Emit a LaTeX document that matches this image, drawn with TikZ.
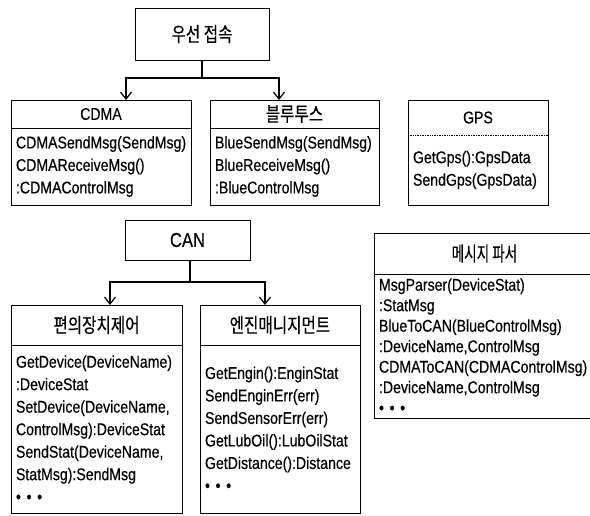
\documentclass[tikz,border=0pt]{standalone}
\usepackage{fontspec}
\setmainfont[FakeStretch=0.83,FakeBold=0.4]{Liberation Sans}
\newfontfamily\kr[FakeStretch=0.78,FakeBold=0.4]{Noto Sans CJK KR}
\newfontfamily\krnarrow[FakeStretch=0.68,FakeBold=0.4]{Noto Sans CJK KR}
\usetikzlibrary{positioning,arrows.meta}

\begin{document}
\begin{tikzpicture}[x=1pt,y=-1pt,
  every node/.style={inner sep=0pt, outer sep=0pt},
  rootbox/.style={draw, line width=1pt},
  classtitle/.style={draw, line width=0.7pt, font=\fontsize{17}{22}\selectfont},
  krtitle/.style={classtitle, font=\kr\fontsize{20}{24}\selectfont},
  classbody/.style={draw, line width=0.7pt, align=left, inner xsep=5pt,
    font=\fontsize{17}{22.5}\selectfont},
  link/.style={line width=1.2pt},
  inherit/.style={link, -{Straight Barb[length=7pt,width=11pt]}}]
  \clip (0,0) rectangle (590,515);

  % wireless side
  \node[rootbox, krtitle, minimum width=134, minimum height=52] (wireless) at (202,34) {우선 접속};
  \node[classtitle, minimum width=180, minimum height=28] (cdma) at (101,114) {CDMA};
  \node[classbody, below=0pt of cdma, text width=170, minimum height=77] (cdmaops)
    {CDMASendMsg(SendMsg)\\CDMAReceiveMsg()\\:CDMAControlMsg};
  \node[krtitle, minimum width=169, minimum height=28] (blue) at (294.5,114) {블루투스};
  \node[classbody, below=0pt of blue, text width=159, minimum height=77] (blueops)
    {BlueSendMsg(SendMsg)\\BlueReceiveMsg()\\:BlueControlMsg};
  \node[classtitle, draw=none, minimum width=140, minimum height=35] (gps) at (478,117.5) {GPS};
  \node[classbody, draw=none, below=0pt of gps, text width=130, minimum height=70] (gpsops)
    {GetGps():GpsData\\SendGps(GpsData)};
  \draw[line width=0.7pt] (gps.north west) rectangle (gpsops.south east);
  \draw[line width=0.7pt, densely dotted] (gps.south west) -- (gps.south east);

  \draw[link] (wireless.south) -- ++(0,18) coordinate (wirelessbar);
  \draw[inherit] (wirelessbar) -| ([xshift=25pt]cdma.north);
  \draw[inherit] (wirelessbar) -| ([xshift=-15.5pt]blue.north);

  % CAN side
  \node[classtitle, font=\fontsize{20}{24}\selectfont, minimum width=125, minimum height=40] (can) at (187.5,240) {CAN};
  \node[krtitle, minimum width=171, minimum height=40] (device) at (96.5,325) {편의장치제어};
  \node[classbody, below=0pt of device, text width=161, minimum height=168] (deviceops)
    {GetDevice(DeviceName)\\:DeviceStat\\SetDevice(DeviceName,\\ControlMsg):DeviceStat\\SendStat(DeviceName,\\StatMsg):SendMsg\\• • •};
  \node[krtitle, minimum width=160, minimum height=40] (engine) at (280,325) {엔진매니지먼트};
  \node[classbody, below=0pt of engine, text width=150, minimum height=168] (engineops)
    {GetEngin():EnginStat\\SendEnginErr(err)\\SendSensorErr(err)\\GetLubOil():LubOilStat\\GetDistance():Distance\\• • •};

  \draw[link] ([xshift=2.5pt]can.south) -- ++(0,22) coordinate (canbar);
  \draw[inherit] (canbar) -| ([xshift=13.5pt]device.north);
  \draw[inherit] (canbar) -| ([xshift=-15pt]engine.north);

  % parser
  \node[krtitle, font=\krnarrow\fontsize{20}{24}\selectfont, minimum width=221, minimum height=41] (parser) at (484.5,253.5) {메시지 파서};
  \node[classbody, below=0pt of parser, text width=211, minimum height=144,
    font=\fontsize{17}{20.5}\selectfont] (parserops)
    {MsgParser(DeviceStat)\\:StatMsg\\BlueToCAN(BlueControlMsg)\\:DeviceName,ControlMsg\\CDMAToCAN(CDMAControlMsg)\\:DeviceName,ControlMsg\\• • •};
\end{tikzpicture}
\end{document}
